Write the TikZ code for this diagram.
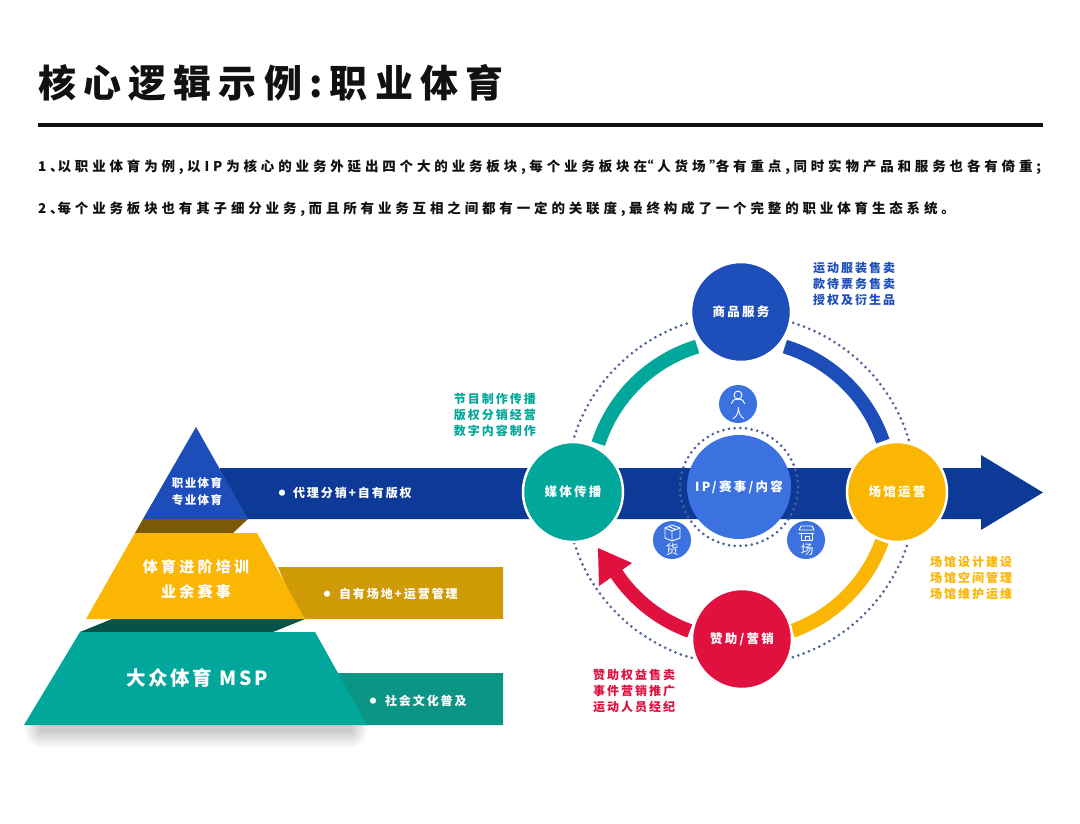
\documentclass[tikz,border=0pt]{standalone}
\usepackage{fontspec}
\setmainfont{Noto Sans CJK SC}
\usetikzlibrary{calc}
\definecolor{ink}{HTML}{111111}
\definecolor{deepblue}{HTML}{0D3A96}
\definecolor{royal}{HTML}{1C4DB9}
\definecolor{ipblue}{HTML}{3B72DF}
\definecolor{teal1}{HTML}{00A79A}
\definecolor{teal2}{HTML}{0A9585}
\definecolor{teal3}{HTML}{05534A}
\definecolor{gold1}{HTML}{FBB503}
\definecolor{gold2}{HTML}{CE9A05}
\definecolor{gold3}{HTML}{7A5A05}
\definecolor{red1}{HTML}{E0103F}
\definecolor{dotc}{HTML}{4F6299}
\newcommand{\tf}[3]{\fontsize{#1}{#3}\selectfont\addfontfeature{LetterSpace=#2}}
\newcommand{\cmm}{,\kern3.5pt }
\newcommand{\dun}{、\kern-6pt }
\tikzset{
 x=1pt,y=-1pt,
 txt/.style={inner sep=0pt,outer sep=0pt},
 hubnode/.style={circle,inner sep=0pt,minimum size=100pt,draw=white,line width=2.5pt,text=white,font=\bfseries\tf{12.5}{18}{14}},
 smallnode/.style={circle,inner sep=0pt,minimum size=38pt,fill=ipblue},
 ringarc/.style={line width=14pt},
 dots/.style={dotc,line width=3pt,line cap=round,dash pattern=on 0pt off 5.7pt},
 listtxt/.style={txt,align=left,font=\bfseries\tf{12}{17}{16}},
 barlabel/.style={txt,anchor=west,text=white,font=\bfseries\tf{12}{16}{14}},
 bulletmark/.style={txt,text=white,font=\bfseries\fontsize{22}{22}\selectfont},
 bodyline/.style={txt,anchor=west,text=ink,font=\bfseries\tf{13.5}{28.5}{16}},
 icon/.style={white,line width=.9pt,line join=round,line cap=round},
 glyph/.style={txt,text=white,font=\tf{13}{0}{14}},
}
\begin{document}
\begin{tikzpicture}
\useasboundingbox (0,0) rectangle (1080,824);
\fill[white] (0,0) rectangle (1080,824);
% heading
\node[txt,anchor=west,text=ink,font=\bfseries\tf{38}{19}{40}] (title) at (38,83) {核心逻辑示例:职业体育};
\coordinate (ruleL) at (38,125);
\coordinate (ruleR) at (1043,125);
\draw[ink,line width=3.5pt] (ruleL) -- (ruleR);
\node[bodyline] (l1) at (38,167) {1\dun 以职业体育为例\cmm 以IP为核心的业务外延出四个大的业务板块\cmm 每个业务板块在\kern-7pt“人货场”\kern-7pt各有重点\cmm 同时实物产品和服务也各有倚重;};
\node[bodyline] (l2) at (38,209) {2\dun 每个业务板块也有其子细分业务\cmm 而且所有业务互相之间都有一定的关联度\cmm 最终构成了一个完整的职业体育生态系统。};
% bars
\fill[deepblue] (220,468) -- (981,468) -- (981,455) -- (1043,492.5) -- (981,530) -- (981,519) -- (220,519) -- cycle;
\fill[gold2] (278,567) -- (503,567) -- (503,619) -- (300,619) -- cycle;
\fill[teal2] (338,673) -- (503,673) -- (503,725) -- (360,725) -- cycle;
% shadow
\foreach \w in {2,4,...,36} {\draw[black,opacity=.01,line width=\w pt,line join=round] (42,726) rectangle (350,730);}
% pyramid
\fill[teal3] (112,619) -- (305,619) -- (273,632) -- (80,632) -- cycle;
\fill[gold3] (143,519) -- (248,519) -- (233,533) -- (135,533) -- cycle;
\fill[teal1] (80,632) -- (315,632) -- (367,725) -- (24,725) -- cycle;
\fill[gold1] (135,533) -- (257,533) -- (305,619) -- (86,619) -- cycle;
\fill[royal] (196,427) -- (248,519) -- (143,519) -- cycle;
\node[txt,text=white,align=center,font=\bfseries\tf{11.5}{12}{17}] (p1) at (197,492) {职业体育\\专业体育};
\node[txt,text=white,align=center,font=\bfseries\tf{15}{22}{25}] (p2) at (196,579.5) {体育进阶培训\\业余赛事};
\node[txt,text=white,font=\bfseries\tf{19.5}{14}{22}] (p3) at (197,678) {大众体育 MSP};
\node[bulletmark] (d1) at (282,495.5) {•};
\node[bulletmark] (d2) at (327,596.5) {•};
\node[bulletmark] (d3) at (373,703.5) {•};
\node[barlabel] (b1) at (293,493) {代理分销+自有版权};
\node[barlabel] (b2) at (339,594) {自有场地+运营管理};
\node[barlabel] (b3) at (385,701) {社会文化普及};
% ring
\coordinate (hub) at (741,490);
\draw[dots] (hub) circle[radius=175];
\draw[ringarc,royal] ([shift={(-73:150)}]hub) arc[start angle=-73,end angle=-19,radius=150];
\draw[ringarc,teal1] ([shift={(-107:150)}]hub) arc[start angle=-107,end angle=-162,radius=150];
\draw[ringarc,gold1] ([shift={(20:150)}]hub) arc[start angle=20,end angle=70,radius=150];
\draw[ringarc,red1] ([shift={(110:150)}]hub) arc[start angle=110,end angle=147,radius=150];
\fill[red1] (598,548) -- (632,563) -- (599,586) -- cycle;
% centre
\node[circle,minimum size=104pt,inner sep=0pt,fill=ipblue,text=white,font=\bfseries\tf{12.5}{18}{14}] (ip) at (739,487) {IP/赛事/内容};
\draw[dots] (ip.center) circle[radius=59];
\node[hubnode,fill=royal] (goods) at (741,312) {商品服务};
\node[hubnode,fill=teal1] (media) at (573,492) {媒体传播};
\node[hubnode,fill=gold1] (venue) at (897,492) {场馆运营};
\node[hubnode,fill=red1] (spons) at (742,639) {赞助/营销};
% small circles
\node[smallnode] (ren) at (738,404) {};
\node[smallnode] (huo) at (672,540) {};
\node[smallnode] (chang) at (806,540) {};
\node[glyph] (rent) at (738.5,414) {人};
\node[glyph] (huot) at (672,550) {货};
\node[glyph] (changt) at (807,550) {场};
\draw[icon] (738,395) circle[radius=4];
\draw[icon] (731.5,403.5) .. controls (733,399.5) and (735,399) .. (738,399) .. controls (741,399) and (743,399.5) .. (744.5,403.5);
\draw[icon] (665,528) -- (672,525) -- (680,528) -- (680,538) -- (672,541) -- (665,538) -- cycle;
\draw[icon] (665,528) -- (672,531) -- (680,528) (672,531) -- (672,541) (668.5,526.5) -- (676,529.5);
\draw[icon] (799,530) -- (801,526) -- (812,526) -- (814,530) -- cycle;
\draw[icon] (799,533) -- (814,533) (801,533) -- (801,540) -- (812,540) -- (812,533) (805,540) -- (805,536) -- (809,536) -- (809,540);
% lists
\node[listtxt,anchor=west,text=royal] (lg) at (813,284) {运动服装售卖\\款待票务售卖\\授权及衍生品};
\node[listtxt,anchor=east,text=teal1] (lm) at (536,414.5) {节目制作传播\\版权分销经营\\数字内容制作};
\node[listtxt,anchor=west,text=gold1] (lv) at (930,578) {场馆设计建设\\场馆空间管理\\场馆维护运维};
\node[listtxt,anchor=west,text=red1] (ls) at (593,691) {赞助权益售卖\\事件营销推广\\运动人员经纪};
\end{tikzpicture}
\end{document}
